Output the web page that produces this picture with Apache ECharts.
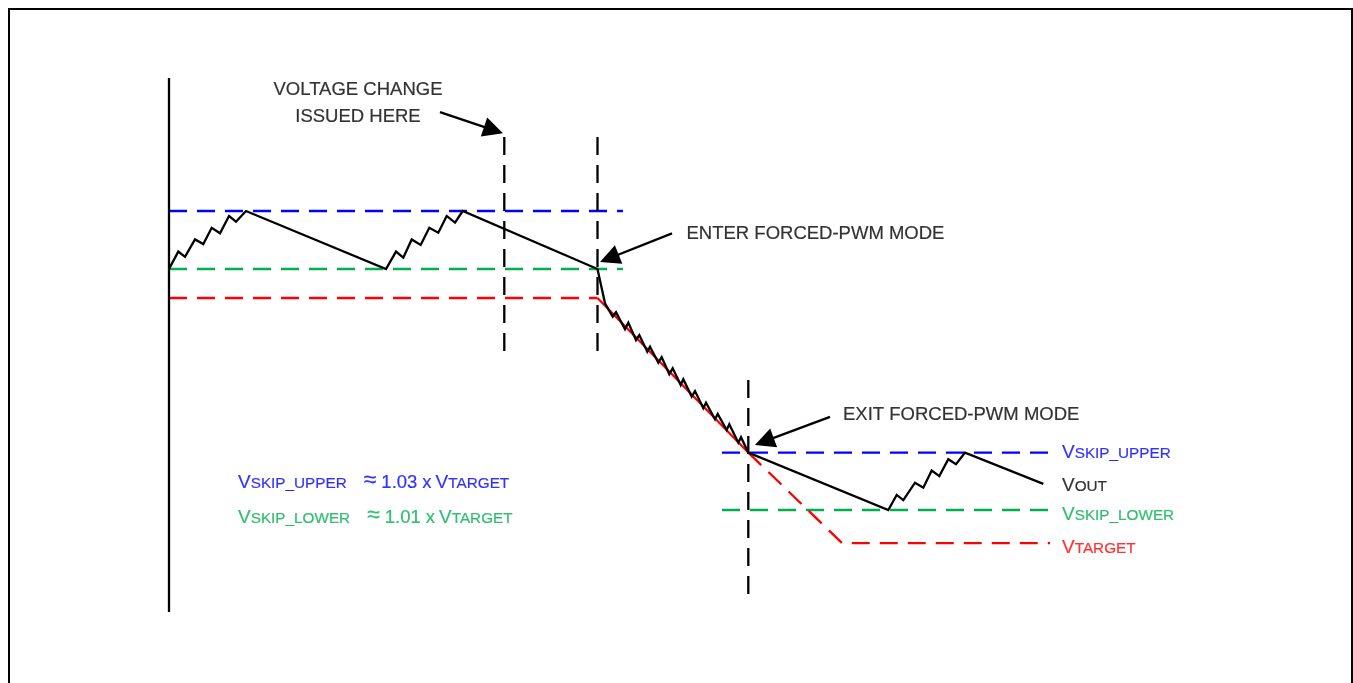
<!DOCTYPE html>
<html>
<head>
<meta charset="utf-8">
<script src="https://cdn.jsdelivr.net/npm/echarts@6/dist/echarts.min.js"></script>
<style>
  html, body { margin: 0; padding: 0; background: #ffffff; }
  #chart { width: 1353px; height: 683px; }
</style>
</head>
<body>
<div id="chart"></div>
<script>
// Time in µs (x), voltage in mV (y). Old target 1000 mV, new target 915.5 mV.

// Output voltage: skip-mode ripple, forced-PWM ramp down, skip mode again.
const VOUT = [
  [0, 1010], [0.93, 1016.0], [1.6, 1014.2], [2.6, 1020.2], [3.43, 1018.6], [4.27, 1024.2],
  [5.1, 1022.3], [6.0, 1028.3], [6.7, 1026.3], [7.7, 1030],
  [21.7, 1010], [22.7, 1016.0], [23.43, 1013.9], [24.27, 1020.2], [25.17, 1018.3], [26.03, 1024.2],
  [26.93, 1022.5], [27.77, 1028.3], [28.6, 1026.0], [29.37, 1030],
  [42.85, 1010], [43.6, 998.2], [44.37, 993.6], [44.7, 995.1], [45.6, 989.2], [45.93, 991.5],
  [46.7, 985.5], [47.03, 987.2], [47.83, 981.5], [48.1, 983.2], [48.93, 977.7], [49.27, 979.6],
  [50.03, 973.7], [50.37, 975.8], [51.17, 970.0], [51.43, 972.0], [52.27, 966.0], [52.6, 967.9],
  [53.43, 962.0], [53.7, 963.9], [54.6, 958.2], [54.87, 960.0], [55.77, 954.5], [56.03, 956.5],
  [56.93, 950.1], [57.2, 952.0], [57.93, 946.7],
  [71.93, 926.9], [72.77, 932.1], [73.43, 930.3], [74.6, 936.3], [75.43, 934.6], [76.27, 940.5],
  [77.03, 938.6], [77.93, 944.4], [78.7, 942.7], [79.6, 946.7], [87.43, 935.9]
];

// Target voltage: hold, slewed ramp, projected ramp + new level
const VTARGET_HOLD = [[0, 1000], [42.85, 1000]];
const VTARGET_RAMP = [[42.85, 1000], [57.93, 946.7]];
const VTARGET_NEXT = [[57.93, 946.7], [67.3, 915.5], [88.1, 915.5]];

// Skip-mode thresholds before and after the change
const SKIP_UPPER_OLD = [[0, 1030], [45.4, 1030]];
const SKIP_LOWER_OLD = [[0, 1010], [45.4, 1010]];
const SKIP_UPPER_NEW = [[55.3, 946.7], [88.1, 946.7]];
const SKIP_LOWER_NEW = [[55.3, 926.9], [88.1, 926.9]];

// Event markers: [time, top, bottom]
const MARKERS = [[33.53, 1055.5, 979.7], [42.85, 1055.5, 979.7], [57.93, 971.7, 894.9]];
const VOLTAGE_AXIS = [[0, 1075.9], [0, 891.7]];

// Callout arrows: [tail, head]
const ARROWS = [
  [[27.1, 1064.1], [32.45, 1057.9]],
  [[50.3, 1022.3], [44.03, 1013.7]],
  [[66.1, 959.0], [59.53, 950.55]]
];

// Text annotations: [time, voltage, text]
const NOTE_TEXT = [
  [18.9, 1071.7, 'VOLTAGE CHANGE'],
  [18.9, 1062.4, 'ISSUED HERE']
];
const CALLOUT_TEXT = [
  [51.75, 1022.1, 'ENTER FORCED-PWM MODE'],
  [67.4, 959.8, 'EXIT FORCED-PWM MODE']
];
// Level labels: [time, voltage, subscript]
const LEVEL_TEXT = [
  [89.3, 946.6, 'SKIP_UPPER'],
  [89.3, 935.2, 'OUT'],
  [89.3, 925.2, 'SKIP_LOWER'],
  [89.3, 913.8, 'TARGET']
];
// Threshold relations: [time, voltage, subscript, ratio]
const FORMULA_TEXT = [
  [6.9, 937.0, 'SKIP_UPPER', '1.03'],
  [6.9, 925.0, 'SKIP_LOWER', '1.01']
];

const BLUE = '#0000ff', GREEN = '#00b050', RED = '#ff0000', BLACK = '#000000';
const LEVEL_COLORS = [BLUE, BLACK, GREEN, RED];
const FORMULA_COLORS = [BLUE, GREEN];
const FONT = '"Liberation Sans", Arial, sans-serif';
const DASH = [18, 10];
const LINE_W = 2.3;

function trace(data, color, dashed, z) {
  return {
    type: 'line', data: data, symbol: 'none', silent: true, z: z,
    lineStyle: { color: color, width: LINE_W, type: dashed ? DASH : 'solid', join: 'miter' }
  };
}

function ink(color) {
  return { color: color, textBorderColor: color, textBorderWidth: 0.2, fontFamily: FONT };
}

function richFor(color) {
  const base = ink(color);
  return {
    v: Object.assign({ fontSize: 19, verticalAlign: 'bottom' }, base),
    s: Object.assign({ fontSize: 15.3, verticalAlign: 'bottom', padding: [0, 0, 1, 0] }, base),
    g: Object.assign({ fontSize: 23, verticalAlign: 'bottom', padding: [0, 5, 0, 17] }, base),
    n: Object.assign({ fontSize: 18.5, verticalAlign: 'bottom' }, base),
    x: Object.assign({ fontSize: 18.5, verticalAlign: 'bottom', padding: [0, 4, 0, 5] }, base)
  };
}

function textSeries(items, z) {
  return {
    type: 'scatter', symbolSize: 1, silent: true, z: z,
    itemStyle: { color: 'rgba(0,0,0,0)' },
    data: items
  };
}

const series = [];
series.push(trace(SKIP_UPPER_OLD, BLUE, true, 2));
series.push(trace(SKIP_LOWER_OLD, GREEN, true, 2));
series.push(trace(SKIP_UPPER_NEW, BLUE, true, 2));
series.push(trace(SKIP_LOWER_NEW, GREEN, true, 2));
series.push(trace(VTARGET_HOLD, RED, true, 2));
series.push(trace(VTARGET_RAMP, RED, false, 2));
series.push(trace(VTARGET_NEXT, RED, true, 2));
MARKERS.forEach(function (m) {
  series.push(trace([[m[0], m[1]], [m[0], m[2]]], BLACK, true, 3));
});
series.push(trace(VOLTAGE_AXIS, BLACK, false, 3));
series.push(trace(VOUT, BLACK, false, 4));

series.push({
  type: 'lines', coordinateSystem: 'cartesian2d', silent: true, z: 5,
  symbol: ['none', 'triangle'], symbolSize: 20,
  lineStyle: { color: BLACK, width: LINE_W, opacity: 1, curveness: 0 },
  itemStyle: { color: BLACK },
  data: ARROWS.map(function (a) { return { coords: a }; })
});

series.push(textSeries(NOTE_TEXT.map(function (d) {
  return {
    value: [d[0], d[1]],
    label: Object.assign({
      show: true, position: 'inside', align: 'center', verticalAlign: 'middle',
      formatter: d[2], fontSize: 18.5
    }, ink(BLACK))
  };
}), 6));

series.push(textSeries(CALLOUT_TEXT.map(function (d) {
  return {
    value: [d[0], d[1]],
    label: Object.assign({
      show: true, position: 'inside', align: 'left', verticalAlign: 'middle',
      formatter: d[2], fontSize: 18.5
    }, ink(BLACK))
  };
}), 6));

series.push(textSeries(LEVEL_TEXT.map(function (d, i) {
  return {
    value: [d[0], d[1]],
    label: {
      show: true, position: 'inside', align: 'left', verticalAlign: 'middle',
      formatter: '{v|V}{s|' + d[2] + '}',
      rich: richFor(LEVEL_COLORS[i])
    }
  };
}), 6));

series.push(textSeries(FORMULA_TEXT.map(function (d, i) {
  return {
    value: [d[0], d[1]],
    label: {
      show: true, position: 'inside', align: 'left', verticalAlign: 'middle',
      formatter: '{v|V}{s|' + d[2] + '}{g|\u2248}{n|' + d[3] + '}{x|x}{v|V}{s|TARGET}',
      rich: richFor(FORMULA_COLORS[i])
    }
  };
}), 6));

const chart = echarts.init(document.getElementById('chart'), null, { renderer: 'canvas' });
chart.setOption({
  animation: false,
  backgroundColor: '#ffffff',
  grid: { left: 0, right: 0, top: 0, bottom: 0, containLabel: false },
  xAxis: {
    type: 'value', min: -16.9, max: 118.4, show: false,
    splitLine: { show: false }
  },
  yAxis: {
    type: 'value', min: 867.2414, max: 1102.7586, show: false,
    splitLine: { show: false }
  },
  graphic: [{
    type: 'rect', silent: true, z: 10,
    shape: { x: 9, y: 9, width: 1343, height: 700 },
    style: { fill: 'none', stroke: BLACK, lineWidth: 2 }
  }],
  series: series
});
</script>
</body>
</html>
